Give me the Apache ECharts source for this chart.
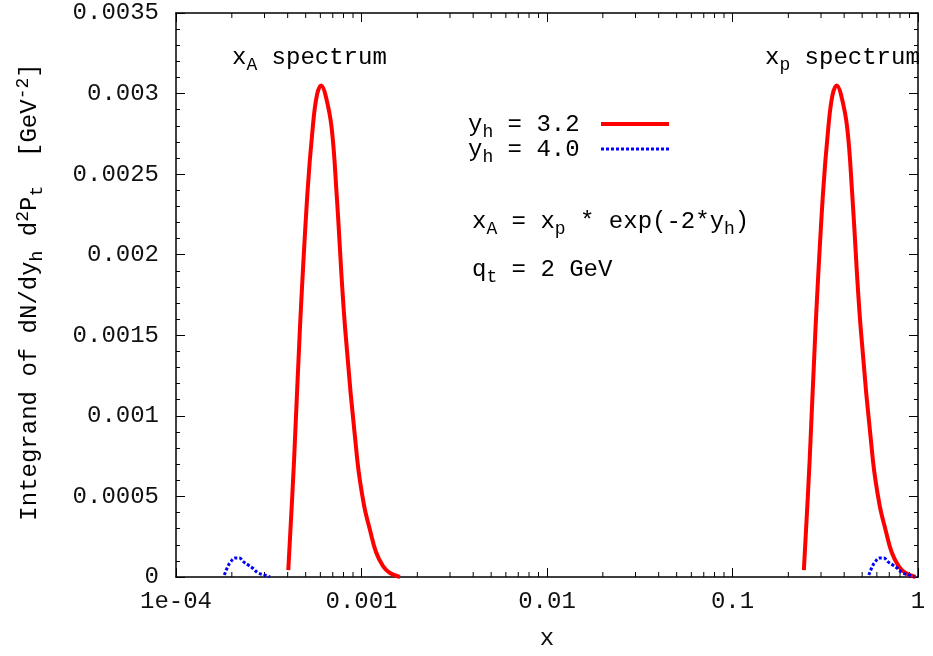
<!DOCTYPE html>
<html>
<head>
    <meta charset="utf-8">
    <title>Integrand spectrum</title>
    <script src="https://cdn.jsdelivr.net/npm/echarts@6/dist/echarts.min.js"></script>
    <style>
        html, body { margin: 0; padding: 0; background: #fff; }
        #main { width: 933px; height: 656px; }
    </style>
</head>
<body>
    <div id="main"></div>
    <script type="text/javascript">
        // y_h = 3.2, x_A spectrum (left peak)
        var xA32 = [4.03e-4, 4.33e-4, 4.66e-4, 5.11e-4, 5.46e-4, 5.75e-4, 6.06e-4, 6.40e-4, 6.90e-4, 7.34e-4,
            8.15e-4, 9.49e-4, 1.031e-3, 1.111e-3, 1.197e-3, 1.306e-3, 1.424e-3, 1.612e-3];
        // y_h = 3.2, x_p spectrum (right peak)
        var xP32 = [0.2425, 0.2606, 0.2804, 0.3075, 0.3286, 0.3460, 0.3647, 0.3852, 0.4152, 0.4417,
            0.4905, 0.5711, 0.6205, 0.6686, 0.7204, 0.7860, 0.8570, 0.9701];
        var val32 = [0.000043, 0.000726, 0.00155, 0.00238, 0.00279, 0.00299, 0.00305, 0.00299, 0.00279, 0.00238,
            0.00155, 0.000726, 0.000447, 0.000292, 0.000155, 0.000068, 0.000025, 0];

        // y_h = 4.0
        var xA40 = [1.822e-4, 1.900e-4, 1.955e-4, 2.080e-4, 2.194e-4, 2.306e-4, 2.454e-4, 2.592e-4, 2.778e-4, 3.019e-4, 3.212e-4];
        var xP40 = [0.5431, 0.5664, 0.5828, 0.6200, 0.6540, 0.6874, 0.7315, 0.7727, 0.8281, 0.9000, 0.9575];
        var val40 = [0.000012, 0.000064, 0.000088, 0.000118, 0.000118, 0.000095, 0.000074, 0.000054, 0.000025, 0.000012, 0];

        var xTickLabels = ['1e-04', '0.001', '0.01', '0.1', '1'];
        var yTickLabels = ['0', '0.0005', '0.001', '0.0015', '0.002', '0.0025', '0.003', '0.0035'];

        var FONT = 'Liberation Mono';
        var FS = 24;

        function pairs(xs, ys) {
            return xs.map(function(x, i) { return [x, ys[i]]; });
        }

        // minor tick positions on the log axis (2..9 in each decade)
        var minorX = [];
        for (var e = -4; e < 0; e++) {
            for (var m = 2; m <= 9; m++) {
                minorX.push([m * Math.pow(10, e), 0]);
            }
        }

        var rich = {
            n: { fontFamily: FONT, fontSize: FS, color: '#111' },
            sub: { fontFamily: FONT, fontSize: 18, color: '#111', padding: [14, 0, 0, 0] },
            sup: { fontFamily: FONT, fontSize: 18, color: '#111', padding: [0, 0, 14, 0] }
        };

        function label(x, y, text, rot) {
            return {
                type: 'text',
                x: x,
                y: y,
                rotation: rot || 0,
                style: {
                    text: text,
                    rich: rich,
                    align: rot ? 'center' : 'left',
                    verticalAlign: 'middle'
                },
                silent: true
            };
        }

        var chart = echarts.init(document.getElementById('main'));

        var axisLineStyle = { onZero: false, lineStyle: { color: '#000', width: 1.5 } };

        var option = {
            animation: false,
            backgroundColor: '#fff',
            grid: {
                left: 176,
                right: 15,
                top: 13,
                bottom: 79
            },
            xAxis: [{
                type: 'log',
                logBase: 10,
                min: 1e-4,
                max: 1,
                splitNumber: 4,
                position: 'bottom',
                axisLine: axisLineStyle,
                axisTick: { inside: true, length: 9, lineStyle: { color: '#000', width: 1 } },
                splitLine: { show: false },
                axisLabel: {
                    margin: 13,
                    fontFamily: FONT,
                    fontSize: FS,
                    color: '#111',
                    formatter: function(v) {
                        return xTickLabels[Math.round(Math.log10(v)) + 4];
                    }
                },
                name: 'x',
                nameLocation: 'middle',
                nameGap: 50,
                nameTextStyle: { fontFamily: FONT, fontSize: FS, color: '#111' }
            }, {
                type: 'log',
                logBase: 10,
                min: 1e-4,
                max: 1,
                splitNumber: 4,
                position: 'top',
                axisLine: axisLineStyle,
                axisTick: { inside: true, length: 9, lineStyle: { color: '#000', width: 1 } },
                splitLine: { show: false },
                axisLabel: { show: false }
            }],
            yAxis: [{
                type: 'value',
                min: 0,
                max: 0.0035,
                interval: 0.0005,
                position: 'left',
                axisLine: { show: true, onZero: false, lineStyle: { color: '#000', width: 1.5 } },
                axisTick: { show: true, inside: true, length: 9, lineStyle: { color: '#000', width: 1 } },
                minorTick: { show: true, splitNumber: 5, length: 4, lineStyle: { color: '#000', width: 1 } },
                splitLine: { show: false },
                axisLabel: {
                    margin: 17,
                    fontFamily: FONT,
                    fontSize: FS,
                    color: '#111',
                    formatter: function(v) {
                        return yTickLabels[Math.round(v / 0.0005)];
                    }
                }
            }, {
                type: 'value',
                min: 0,
                max: 0.0035,
                interval: 0.0005,
                position: 'right',
                axisLine: { show: true, onZero: false, lineStyle: { color: '#000', width: 1.5 } },
                axisTick: { show: true, inside: true, length: 9, lineStyle: { color: '#000', width: 1 } },
                minorTick: { show: true, splitNumber: 5, length: 4, lineStyle: { color: '#000', width: 1 } },
                splitLine: { show: false },
                axisLabel: { show: false }
            }],
            series: [{
                name: 'minor ticks',
                type: 'custom',
                silent: true,
                data: minorX,
                renderItem: function(params, api) {
                    var p = api.coord([api.value(0), 0]);
                    var top = params.coordSys.y;
                    var bottom = params.coordSys.y + params.coordSys.height;
                    return {
                        type: 'group',
                        children: [{
                            type: 'line',
                            shape: { x1: p[0], y1: bottom, x2: p[0], y2: bottom - 5 },
                            style: { stroke: '#000', lineWidth: 1 }
                        }, {
                            type: 'line',
                            shape: { x1: p[0], y1: top, x2: p[0], y2: top + 5 },
                            style: { stroke: '#000', lineWidth: 1 }
                        }]
                    };
                }
            }, {
                name: 'y_h = 3.2 (x_A)',
                type: 'line',
                data: pairs(xA32, val32),
                smooth: 0.4,
                showSymbol: false,
                lineStyle: { color: '#ff0000', width: 4 }
            }, {
                name: 'y_h = 3.2 (x_p)',
                type: 'line',
                data: pairs(xP32, val32),
                smooth: 0.4,
                showSymbol: false,
                lineStyle: { color: '#ff0000', width: 4 }
            }, {
                name: 'y_h = 4.0 (x_A)',
                type: 'line',
                data: pairs(xA40, val40),
                smooth: 0.4,
                showSymbol: false,
                lineStyle: { color: '#0000ff', width: 3, type: [3, 2] }
            }, {
                name: 'y_h = 4.0 (x_p)',
                type: 'line',
                data: pairs(xP40, val40),
                smooth: 0.4,
                showSymbol: false,
                lineStyle: { color: '#0000ff', width: 3, type: [3, 2] }
            }],
            graphic: [
                label(30, 292, '{n|Integrand of dN/dy}{sub|h}{n| d}{sup|2}{n|P}{sub|t}{n|  [GeV}{sup|-2}{n|]}', Math.PI / 2),
                label(232, 58, '{n|x}{sub|A}{n| spectrum}'),
                label(765, 58, '{n|x}{sub|p}{n| spectrum}'),
                label(468, 125, '{n|y}{sub|h}{n| = 3.2}'),
                label(468, 150, '{n|y}{sub|h}{n| = 4.0}'),
                label(472, 222, '{n|x}{sub|A}{n| = x}{sub|p}{n| * exp(-2*y}{sub|h}{n|)}'),
                label(472, 270, '{n|q}{sub|t}{n| = 2 GeV}'),
                {
                    type: 'line',
                    shape: { x1: 601, y1: 124, x2: 669, y2: 124 },
                    style: { stroke: '#ff0000', lineWidth: 4 },
                    silent: true
                },
                {
                    type: 'line',
                    shape: { x1: 601, y1: 149, x2: 670, y2: 149 },
                    style: { stroke: '#0000ff', lineWidth: 3, lineDash: [3, 2] },
                    silent: true
                }
            ]
        };

        chart.setOption(option);
    </script>
</body>
</html>
